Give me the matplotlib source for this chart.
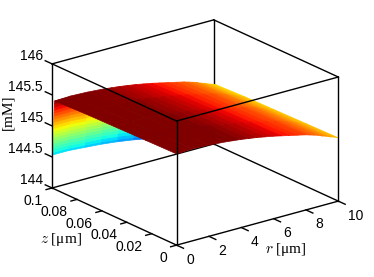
import matplotlib
matplotlib.use("Agg")
import matplotlib.pyplot as plt
import numpy as np
from mpl_toolkits.mplot3d import proj3d

r_ticks = [0, 2, 4, 6, 8, 10]
z_ticks = [0, 0.02, 0.04, 0.06, 0.08, 0.1]
c_ticks = [144, 144.5, 145, 145.5, 146]
z_tick_labels = ["0", "0.02", "0.04", "0.06", "0.08", "0.1"]
c_tick_labels = ["144", "144.5", "145", "145.5", "146"]

# top sheet of the surface: profile along r at z = 0, and how far it sinks with z
r_sheet = [0, 1, 2, 3, 3.5, 4, 4.5, 5, 5.5, 6, 6.5, 7, 7.5, 8, 8.25, 8.5, 8.75, 9, 9.25, 9.5, 9.75, 10]
c_sheet = [145.47, 145.48, 145.47, 145.45, 145.435, 145.42, 145.40, 145.38, 145.355, 145.33, 145.30,
           145.27, 145.24, 145.21, 145.19, 145.17, 145.15, 145.12, 145.10, 145.07, 145.05, 145.02]
z_sheet = [0, 0.025, 0.05, 0.075, 0.098]
sink_sheet = [0, 0.01, 0.02, 0.03, 0.05]

# sharp drop next to z = 0.1
r_wall = [0, 1, 2, 3, 4, 5, 6, 8, 10]
c_wall = [145.42, 145.42, 145.40, 145.38, 145.35, 145.31, 145.26, 145.14, 144.97]
z_wall = [0.098, 0.0981, 0.0982, 0.0983, 0.0984, 0.0985, 0.0986, 0.0987, 0.0988, 0.0989,
          0.099, 0.0991, 0.0992, 0.0993, 0.0994, 0.0995, 0.0996, 0.0998, 0.1]
sink_wall = [0, 0.05, 0.10, 0.15, 0.20, 0.25, 0.30, 0.35, 0.40, 0.45,
             0.50, 0.55, 0.60, 0.65, 0.70, 0.75, 0.80, 0.85, 0.89]

plt.rc("font", family="Liberation Sans", size=10)
plt.rc("mathtext", fontset="cm")

fig = plt.figure(figsize=(3.74, 2.77), dpi=100)
# square axes bigger than the figure so the box is not clipped
ax = fig.add_axes([(189.8 - 200) / 374, (139.1 - 200) / 277, 400 / 374, 400 / 277],
                  projection="3d", proj_type="ortho", computed_zorder=False)
ax.set_axis_off()
ax.view_init(elev=20.7, azim=-127.6)
ax.set_box_aspect((204, 204, 132.6), zoom=0.771)
ax.set_xlim(0, 10)
ax.set_ylim(0, 0.1)
ax.set_zlim(144, 146)

r0, r1 = 0, 10
z0, z1 = 0, 0.1
c0, c1 = 144, 146
line = dict(color="black", lw=1.0, solid_capstyle="projecting")

# edges behind the surface
ax.plot([r1, r1], [z1, z1], [c0, c1], zorder=1, **line)
ax.plot([r0, r1], [z1, z1], [c0, c0], zorder=1, **line)
ax.plot([r1, r1], [z0, z1], [c0, c0], zorder=1, **line)

vmin, vmax = 144.08, 145.43
surf = dict(cmap="jet", vmin=vmin, vmax=vmax, shade=False, rstride=1, cstride=1, antialiased=True)
R, Z = np.meshgrid(r_wall, z_wall)
C = np.array(c_wall)[None, :] - np.array(sink_wall)[:, None]
wall = ax.plot_surface(R, Z, C, zorder=2, **surf)
R, Z = np.meshgrid(r_sheet, z_sheet)
C = np.array(c_sheet)[None, :] - np.array(sink_sheet)[:, None]
sheet = ax.plot_surface(R, Z, C, zorder=3, **surf)
for s in [wall, sheet]:
    s.set_edgecolor("face")
    s.set_linewidth(0.5)

# edges in front of the surface
ax.plot([r0, r0], [z0, z0], [c0, c1], zorder=4, **line)
ax.plot([r0, r0], [z1, z1], [c0, c1], zorder=4, **line)
ax.plot([r1, r1], [z0, z0], [c0, c1], zorder=4, **line)
ax.plot([r0, r1], [z0, z0], [c0, c0], zorder=4, **line)
ax.plot([r0, r0], [z0, z1], [c0, c0], zorder=4, **line)
ax.plot([r0, r1], [z0, z0], [c1, c1], zorder=4, **line)
ax.plot([r0, r0], [z0, z1], [c1, c1], zorder=4, **line)
ax.plot([r0, r1], [z1, z1], [c1, c1], zorder=4, **line)
ax.plot([r1, r1], [z0, z1], [c1, c1], zorder=4, **line)

# outward ticks
tick = dict(color="black", lw=1.0)
r_len = 0.37
z_len = 0.0055
for r in r_ticks:
    ax.plot([r, r], [z0, z0 - z_len], [c0, c0], zorder=4, **tick)
for z in z_ticks:
    ax.plot([r0, r0 - r_len], [z, z], [c0, c0], zorder=4, **tick)
for c in c_ticks:
    ax.plot([r0, r0], [z1, z1 + z_len], [c, c], zorder=4, **tick)


def label(x, y, c, text, dx, dy, **kw):
    px, py, _ = proj3d.proj_transform(x, y, c, ax.get_proj())
    ax.annotate(text, (px, py), xytext=(dx, dy), textcoords="offset pixels", va="center", **kw)


for r in r_ticks:
    label(r, z0, c0, str(r), 9.5, -14.5, ha="left")
for z, s in zip(z_ticks, z_tick_labels):
    label(r0, z, c0, s, -9, -13, ha="right")
for c, s in zip(c_ticks, c_tick_labels):
    label(r0, z1, c, s, -9, 8, ha="right")

serif = dict(family="Liberation Serif", fontsize=11, ha="center", va="center")
fig.text(61 / 374, 1 - 239 / 277, "$z$ [\u03bcm]", **serif)
fig.text(286 / 374, 1 - 249 / 277, "$r$ [\u03bcm]", **serif)
fig.text(8 / 374, 1 - 112 / 277, "[mM]", rotation=90, **serif)

fig.savefig("out.png", dpi=100)
